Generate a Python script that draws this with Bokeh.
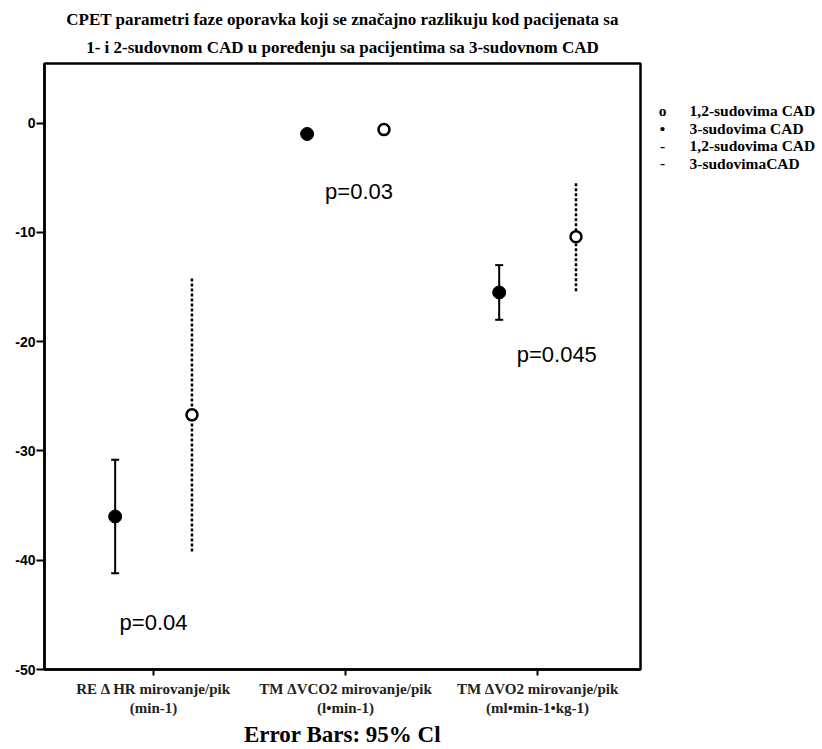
from bokeh.plotting import figure
from bokeh.layouts import row
from bokeh.models import Range1d, FixedTicker, Label, Title, Whisker, TeeHead, ColumnDataSource
from bokeh.embed import file_html
from bokeh.resources import INLINE

# ---- data ----
title_lines = ["CPET parametri faze oporavka koji se značajno razlikuju kod pacijenata sa",
               "1- i 2-sudovnom CAD u poređenju sa pacijentima sa 3-sudovnom CAD"]
categories = ["RE Δ HR mirovanje/pik\n(min-1)",
              "TM ΔVCO2 mirovanje/pik\n(l•min-1)",
              "TM ΔVO2 mirovanje/pik\n(ml•min-1•kg-1)"]
# 3-sudovima CAD (filled, solid bars)
mean3 = [-36.0, -1.0, -15.5]
low3 = [-41.2, -1.3, -18.0]
up3 = [-30.8, -0.7, -13.0]
# 1,2-sudovima CAD (open, dotted bars)
mean12 = [-26.7, -0.6, -10.4]
low12 = [-39.2, -0.9, -15.4]
up12 = [-14.2, -0.3, -5.4]
p_texts = ["p=0.04", "p=0.03", "p=0.045"]
p_x = [1.0, 2.07, 3.10]
p_y = [-45.7, -6.3, -21.2]
y_ticks = [0, -10, -20, -30, -40, -50]
y_tick_labels = ["0", "-10", "-20", "-30", "-40", "-50"]
legend_symbols = ["o", "•", "-", "-"]
legend_labels = ["1,2-sudovima CAD", "3-sudovima CAD", "1,2-sudovima CAD", "3-sudovimaCAD"]
footer = "Error Bars: 95% Cl"

OFF = 0.2
cat_x = [i + 1 for i in range(len(categories))]

W_MAIN, W_LEG, H = 642, 180, 749

p = figure(width=W_MAIN, height=H, output_backend="svg", toolbar_location=None,
           title=None,
           x_range=Range1d(0.432, 3.536), y_range=Range1d(-50, 5.45),
           min_border_left=44, min_border_right=2, min_border_top=63, min_border_bottom=79)

p.add_layout(Title(text=title_lines[1], align="center", text_font="Liberation Serif",
                   text_font_size="17px", text_font_style="bold", standoff=14,
                   text_line_height=0.8, text_color="black"), "above")
p.add_layout(Title(text=title_lines[0], align="center", text_font="Liberation Serif",
                   text_font_size="17px", text_font_style="bold", standoff=0,
                   text_line_height=0.8, text_color="black"), "above")

p.xgrid.visible = False
p.ygrid.visible = False
p.outline_line_color = "black"
p.outline_line_width = 2.5
p.background_fill_color = "white"
p.border_fill_color = "white"

# axes
p.yaxis.ticker = FixedTicker(ticks=y_ticks)
p.yaxis.major_label_overrides = {t: s for t, s in zip(y_ticks, y_tick_labels)}
p.yaxis.major_label_text_font = "Liberation Sans"
p.yaxis.major_label_text_font_style = "bold"
p.yaxis.major_label_text_font_size = "14px"
p.yaxis.major_label_text_color = "black"
p.yaxis.major_tick_out = 8
p.yaxis.major_tick_in = 0
p.yaxis.minor_tick_out = 0
p.yaxis.minor_tick_in = 0
p.yaxis.axis_line_width = 2.5
p.yaxis.axis_line_color = "black"
p.yaxis.major_tick_line_width = 2
p.yaxis.major_tick_line_color = "black"
p.yaxis.major_label_standoff = 1

p.xaxis.ticker = FixedTicker(ticks=cat_x)
p.xaxis.major_label_overrides = {x: c for x, c in zip(cat_x, categories)}
p.xaxis.major_label_text_font = "Liberation Serif"
p.xaxis.major_label_text_font_style = "bold"
p.xaxis.major_label_text_font_size = "15px"
p.xaxis.major_label_text_color = "#222222"
p.xaxis.major_tick_out = 6
p.xaxis.major_tick_in = 0
p.xaxis.minor_tick_out = 0
p.xaxis.minor_tick_in = 0
p.xaxis.axis_line_width = 2.5
p.xaxis.axis_line_color = "black"
p.xaxis.major_tick_line_width = 2
p.xaxis.major_tick_line_color = "black"
p.xaxis.major_label_standoff = 5
p.xaxis.axis_label = footer
p.xaxis.axis_label_text_font = "Liberation Serif"
p.xaxis.axis_label_text_font_style = "bold"
p.xaxis.axis_label_text_font_size = "23px"
p.xaxis.axis_label_text_color = "black"
p.xaxis.axis_label_standoff = 3

src3 = ColumnDataSource(dict(x=[c - OFF for c in cat_x], m=mean3, lo=low3, hi=up3))
src12 = ColumnDataSource(dict(x=[c + OFF for c in cat_x], m=mean12, lo=low12, hi=up12))

w3 = Whisker(source=src3, base="x", lower="lo", upper="hi", dimension="height",
             line_color="black", line_width=2,
             lower_head=TeeHead(size=8, line_width=2, line_color="black"),
             upper_head=TeeHead(size=8, line_width=2, line_color="black"))
w12 = Whisker(source=src12, base="x", lower="lo", upper="hi", dimension="height",
              line_color="black", line_width=2.5, line_dash="3 2",
              lower_head=None, upper_head=None)
p.add_layout(w3)
p.add_layout(w12)

p.scatter("x", "m", source=src3, size=13, marker="circle", fill_color="black", line_color="black")
p.scatter("x", "m", source=src12, size=11, marker="circle", fill_color="white",
          line_color="black", line_width=2.5)

for t, x, y in zip(p_texts, p_x, p_y):
    p.add_layout(Label(x=x, y=y, text=t, text_align="center", text_baseline="middle",
                       text_font="Liberation Sans", text_font_size="22px", text_color="black"))

# ---- legend panel (separate, axis-less figure sharing the y scale) ----
leg = figure(width=W_LEG, height=H, output_backend="svg", toolbar_location=None,
             title=None, x_range=Range1d(0, W_LEG), y_range=p.y_range,
             min_border_left=0, min_border_right=0, min_border_top=63, min_border_bottom=79)
leg.axis.visible = False
leg.grid.visible = False
leg.outline_line_color = None
leg.border_fill_color = "white"
n = len(legend_labels)
LEG_TOP, LEG_STEP = 1.16, 1.62
row_y = [LEG_TOP - LEG_STEP * i for i in range(n)]
leg.text(x=[20] * n, y=row_y, text=legend_symbols, text_align="center",
         text_baseline="middle", text_font="Liberation Serif", text_font_style="bold",
         text_font_size="15.5px", text_color="black")
leg.text(x=[47] * n, y=row_y, text=legend_labels, text_align="left",
         text_baseline="middle", text_font="Liberation Serif", text_font_style="bold",
         text_font_size="15.5px", text_color="black")

layout = row(p, leg, spacing=0)
open("out.html", "w").write(file_html(layout, INLINE))
